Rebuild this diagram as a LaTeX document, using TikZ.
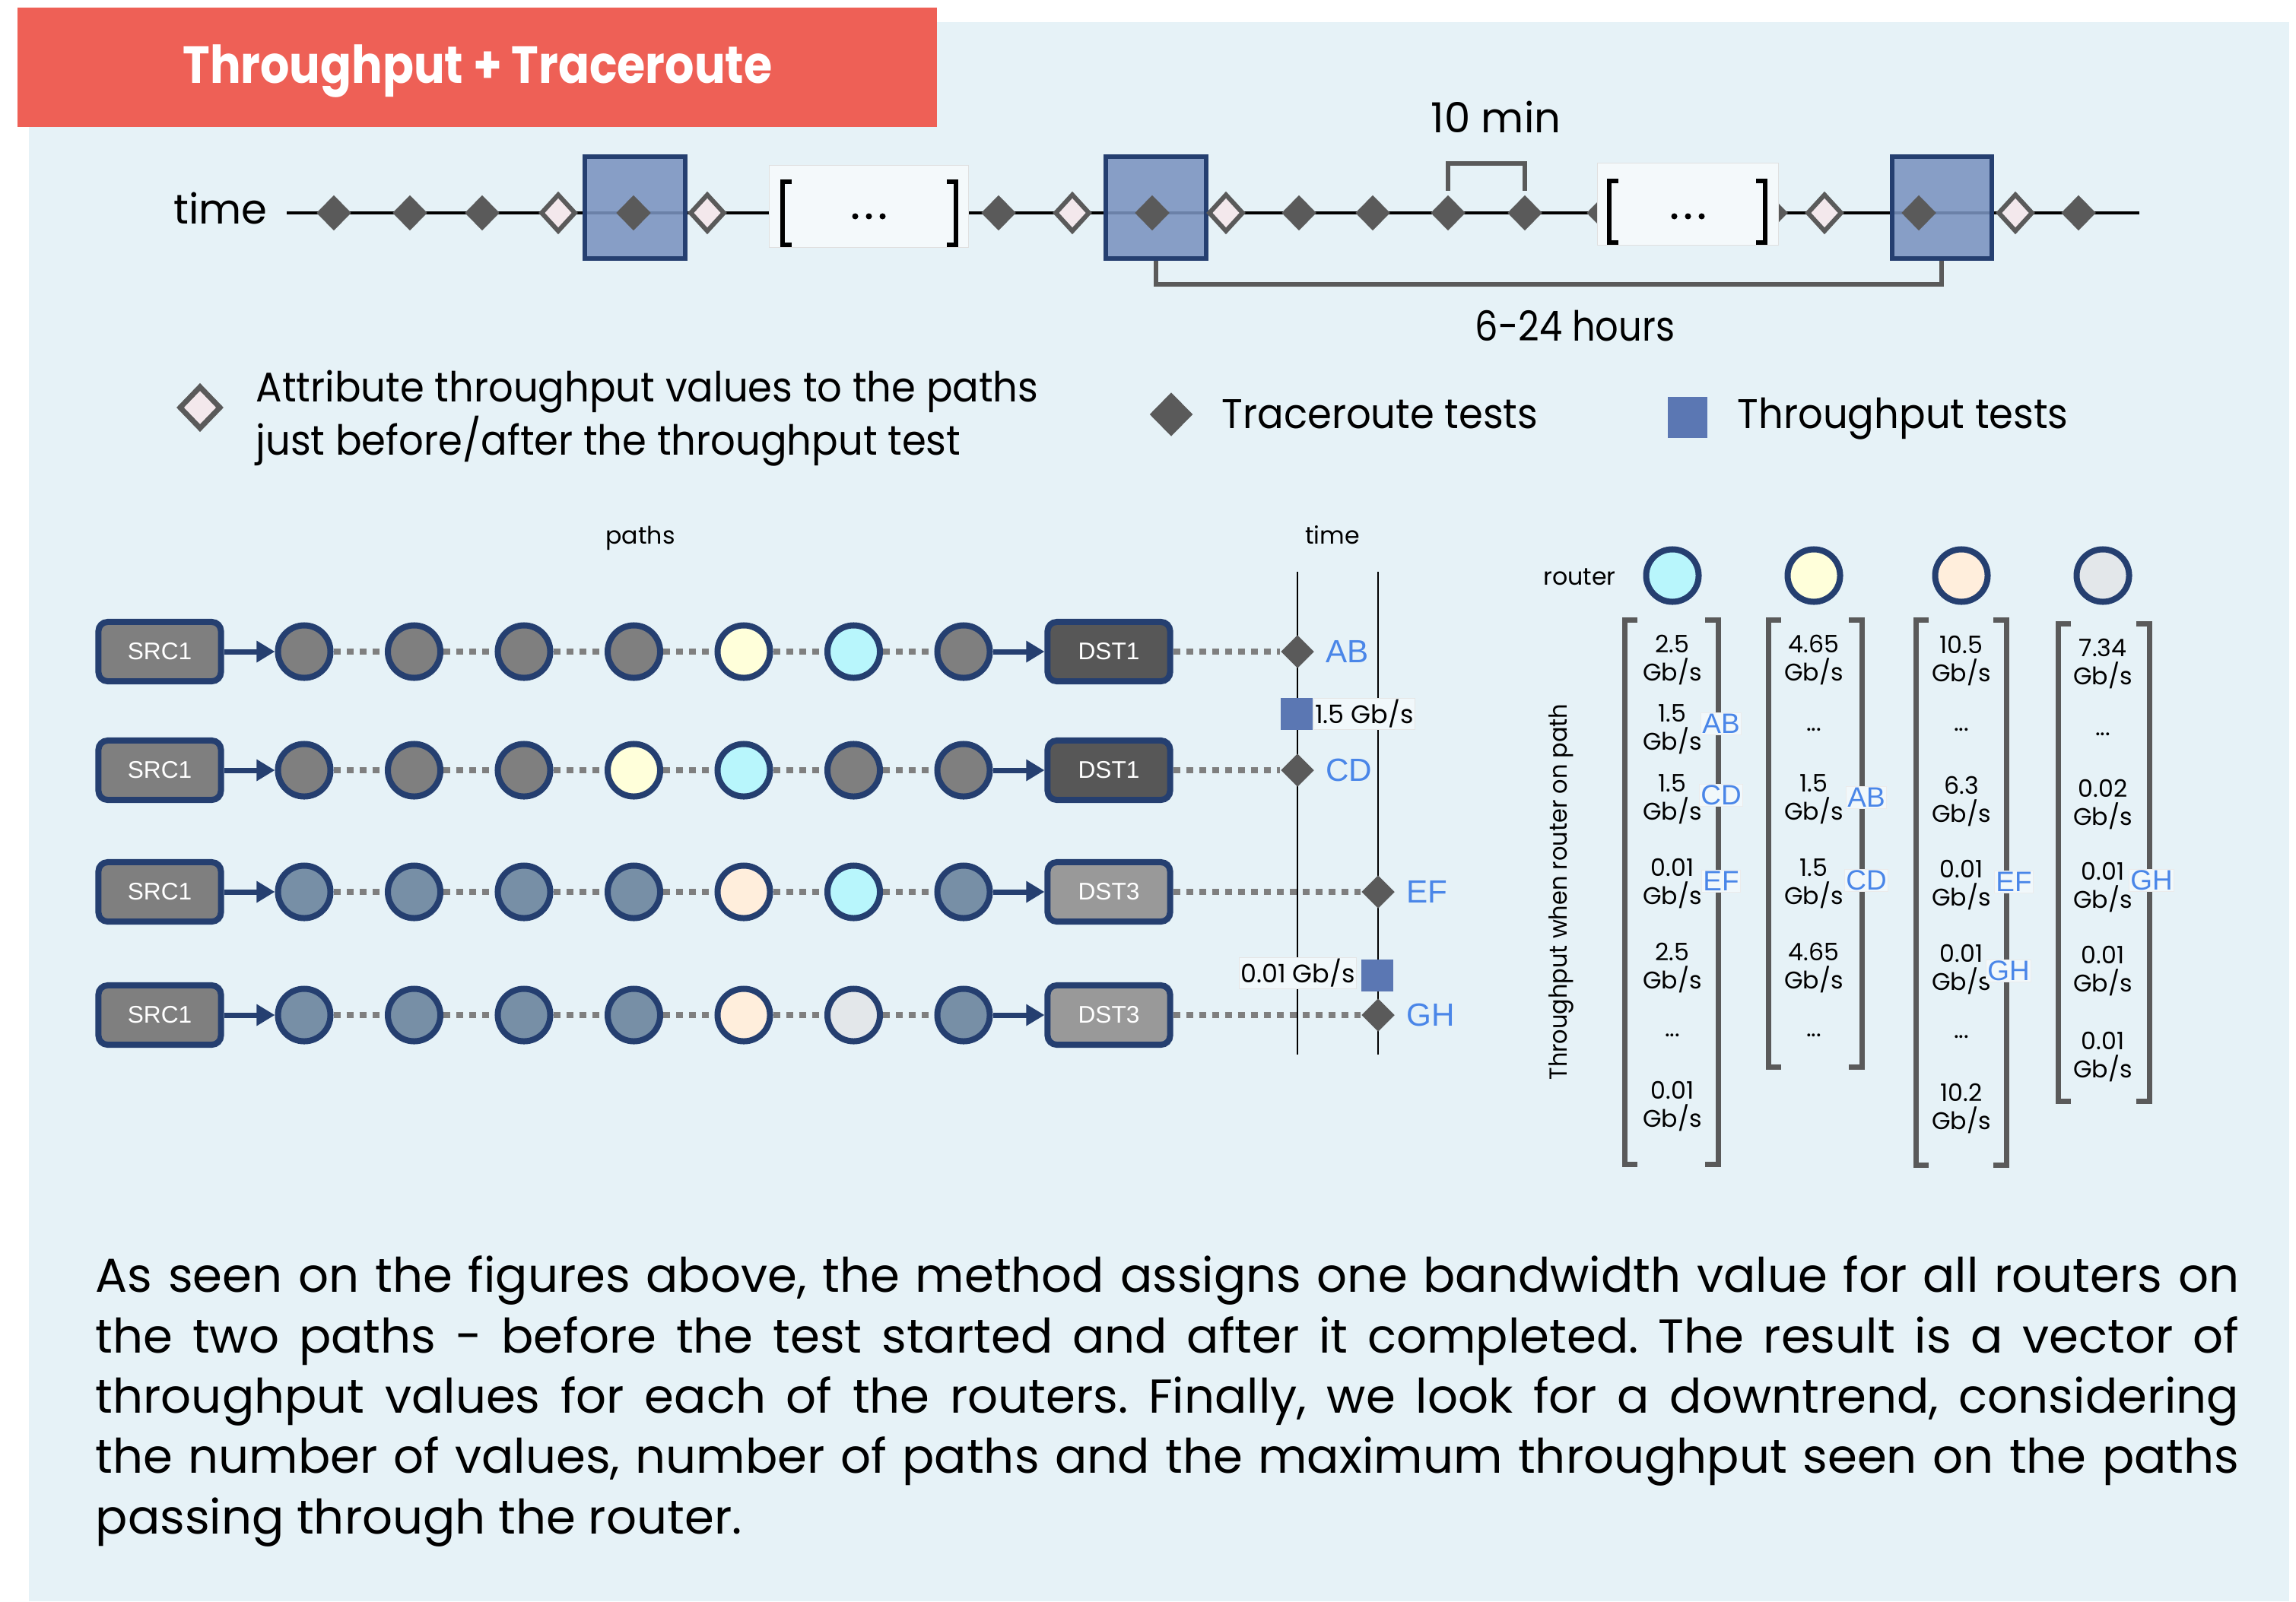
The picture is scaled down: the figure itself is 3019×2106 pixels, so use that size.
\documentclass[tikz,border=0pt]{standalone}
\usepackage{fontspec}
\setmainfont{Poppins}
\newfontfamily\legendfont{Poppins}[FakeStretch=0.94]
\newfontfamily\tightfont{Poppins}[FakeStretch=0.88]
\newfontfamily\labelfont{Liberation Sans}
\usepackage{xcolor}
\usetikzlibrary{calc,arrows.meta,shapes.geometric,positioning}

\definecolor{panel}{HTML}{E6F2F7}
\definecolor{banner}{HTML}{EE6056}
\definecolor{navy}{HTML}{253F70}
\definecolor{tpfill}{HTML}{7A93C0}
\definecolor{tpsquare}{HTML}{5B77B3}
\definecolor{trgray}{HTML}{5A5A5A}
\definecolor{attrfill}{HTML}{F3E8EC}
\definecolor{hopgray}{HTML}{7F7F7F}
\definecolor{hopslate}{HTML}{778FA6}
\definecolor{rcyan}{HTML}{B8F6FC}
\definecolor{ryellow}{HTML}{FFFFDA}
\definecolor{rpeach}{HTML}{FFEEDC}
\definecolor{rlight}{HTML}{E3E7EA}
\definecolor{dstdark}{HTML}{575757}
\definecolor{dstlight}{HTML}{999999}
\definecolor{tagblue}{HTML}{4A86E8}

\tikzset{
  bigtext/.style={font=\fontsize{15.5}{18.5}\selectfont,inner sep=0},
  legtext/.style={font=\legendfont\fontsize{15.5}{17.6}\selectfont,inner sep=0},
  smalltext/.style={font=\fontsize{9}{10.5}\selectfont,inner sep=0},
  trace/.style={diamond,fill=trgray,inner sep=0,minimum width=0.46cm,minimum height=0.47cm},
  attr/.style={diamond,draw=trgray,fill=attrfill,line width=0.06cm,inner sep=0,
    minimum width=0.46cm,minimum height=0.5cm},
  tpbox/.style={draw=navy,fill=tpfill,fill opacity=0.88,line width=0.06cm,inner sep=0,
    minimum width=1.31cm,minimum height=1.33cm},
  gapbox/.style={draw=black!12,fill=white!55!panel,line width=0.3pt,inner sep=0,minimum height=1.07cm},
  gapbrk/.style={black,line width=0.055cm},
  span/.style={trgray,line width=0.06cm},
  hop/.style={circle,draw=navy,line width=0.08cm,minimum size=0.69cm,inner sep=0},
  endbox/.style={rectangle,rounded corners=0.12cm,draw=navy,line width=0.08cm,
    minimum width=1.61cm,minimum height=0.78cm,text=white,font=\labelfont\fontsize{9}{10}\selectfont},
  link/.style={hopgray,line width=0.08cm,dash pattern=on 0.09cm off 0.08cm},
  hand/.style={navy,line width=0.07cm,-{Triangle[length=0.24cm,width=0.27cm]}},
  probe/.style={diamond,fill=trgray,inner sep=0,minimum size=0.44cm},
  probetag/.style={text=tagblue,font=\labelfont\fontsize{12}{14}\selectfont,inner sep=0},
  tpsq/.style={fill=tpsquare,inner sep=0,minimum size=0.42cm},
  valbox/.style={draw=black!10,fill=white!45!panel,line width=0.3pt,inner sep=0.02cm,
    minimum height=0.37cm,font=\fontsize{9.5}{11}\selectfont},
  brk/.style={trgray,line width=0.07cm},
  val/.style={align=center,font=\fontsize{9}{10.5}\selectfont,inner sep=0},
  vtag/.style={draw=black!8,fill=white!45!panel,line width=0.3pt,inner sep=0.015cm,
    text=tagblue,font=\labelfont\fontsize{10.5}{12}\selectfont},
}

\begin{document}
\begin{tikzpicture}[x=0.01cm,y=-0.01cm]
\useasboundingbox (0,0) rectangle (3019,2106);
\fill[panel] (38,29) rectangle (3010,2106);
\fill[banner] (23,10) rectangle (1232,167);
\node[anchor=base,text=white,inner sep=0,font=\tightfont\bfseries\fontsize{19.5}{22}\selectfont] (title) at (628,110) {Throughput + Traceroute};

% ---- timeline of tests
\coordinate (tstart) at (377,280);
\coordinate (tend) at (2813,280);
\draw[line width=0.035cm] (tstart) -- (tend);
\node[bigtext,anchor=base] (timelbl) at (290,294) {time};

\foreach \n/\x in {1/835,2/1520,3/2553}
  \node[tpbox] (tp\n) at (\x,273) {};

% traceroutes hidden behind the gaps
\node[trace] (h1) at (2109,280) {};
\node[trace] (h2) at (2328,280) {};

\node[gapbox,minimum width=2.61cm] (g1) at (1142.5,271.5) {};
\node[gapbox,minimum width=2.37cm] (g2) at (2219.5,268.5) {};
\draw[gapbrk] (1041,239) -- (1029,239) -- (1029,322) -- (1041,322);
\draw[gapbrk] (1245,239) -- (1257,239) -- (1257,322) -- (1245,322);
\draw[gapbrk] (2128,238) -- (2116,238) -- (2116,319) -- (2128,319);
\draw[gapbrk] (2309,238) -- (2321,238) -- (2321,319) -- (2309,319);
\foreach \d in {-18,0,18} {
  \fill ($(g1.center)+(\d,13)$) circle (0.04cm);
  \fill ($(g2.center)+(\d,16)$) circle (0.04cm);
}

\foreach \n/\x in {1/439,2/539,3/634,4/833,5/1313,6/1515,7/1708,8/1805,9/1904,10/2005,11/2523,12/2733}
  \node[trace] (t\n) at (\x,280) {};
\foreach \n/\x in {1/734,2/930,3/1410,4/1612,5/2399,6/2650}
  \node[attr] (a\n) at (\x,280) {};

\draw[span] ([yshift=0.05cm]t9.north) -- ++(0,-36) -| ([yshift=0.05cm]t10.north);
\node[bigtext,anchor=base] (tenmin) at (1967,175) {10 min};
\draw[span] (tp2.south) -- ++(0,31) -| (tp3.south);
\node[bigtext,anchor=base,font=\tightfont\fontsize{15.5}{18.5}\selectfont] (hours) at (2071,448) {6-24 hours};

% ---- legend
\node[attr,minimum width=0.55cm,minimum height=0.57cm,line width=0.07cm] (leg1) at (263,536) {};
\node[legtext,anchor=west,align=left] (legtxt1) at (336,550)
  {Attribute throughput values to the paths\\just before/after the throughput test};
\node[trace,minimum width=0.57cm,minimum height=0.58cm] (leg2) at (1540,545) {};
\node[legtext,anchor=base west] (legtxt2) at (1606,563) {Traceroute tests};
\node[tpsq,minimum width=0.52cm,minimum height=0.54cm] (leg3) at (2219,549) {};
\node[legtext,anchor=base west] (legtxt3) at (2284,563) {Throughput tests};

% ---- paths and the two traceroute time lines
\node[smalltext] (pathslbl) at (842,708) {paths};
\node[smalltext] (ptimelbl) at (1752,704) {time};

\coordinate (tl1a) at (1706,752);
\coordinate (tl1b) at (1706,1387);
\coordinate (tl2a) at (1812,752);
\coordinate (tl2b) at (1812,1387);
\draw[line width=0.025cm] (tl1a) -- (tl1b);
\draw[line width=0.025cm] (tl2a) -- (tl2b);

\foreach \r/\y/\dst/\dfill/\hops/\px/\tag in {
    1/857/DST1/dstdark/{hopgray,hopgray,hopgray,hopgray,ryellow,rcyan,hopgray}/1706/AB,
    2/1013/DST1/dstdark/{hopgray,hopgray,hopgray,ryellow,rcyan,hopgray,hopgray}/1706/CD,
    3/1173/DST3/dstlight/{hopslate,hopslate,hopslate,hopslate,rpeach,rcyan,hopslate}/1812/EF,
    4/1335/DST3/dstlight/{hopslate,hopslate,hopslate,hopslate,rpeach,rlight,hopslate}/1812/GH} {
  \node[endbox,fill=hopgray] (src\r) at (210,\y) {SRC1};
  \foreach \c [count=\i] in \hops
    \node[hop,fill=\c] (h\r-\i) at ({400+144.5*(\i-1)},\y) {};
  \node[endbox,fill=\dfill] (dst\r) at (1458,\y) {\dst};
  \draw[hand] (src\r) -- (h\r-1);
  \foreach \i [evaluate=\i as \j using int(\i+1)] in {1,...,6}
    \draw[link] (h\r-\i) -- (h\r-\j);
  \draw[hand] (h\r-7) -- (dst\r);
  \node[probe] (p\r) at (\px,\y) {};
  \draw[link] (dst\r) -- (p\r);
  \node[probetag,right=0.14cm of p\r] (pt\r) {\tag};
}

\node[tpsq] (q1) at (1705,939) {};
\node[valbox,right=0pt of q1] (q1v) {1.5 Gb/s};
\node[tpsq] (q2) at (1811,1283) {};
\node[valbox,left=0.05cm of q2,yshift=0.03cm] (q2v) {0.01 Gb/s};

% ---- throughput vectors per router
\node[smalltext] (routerlbl) at (2077,759) {router};
\foreach \n/\x/\c in {1/2199/rcyan,2/2385/ryellow,3/2579/rpeach,4/2765/rlight}
  \node[hop,fill=\c] (r\n) at (\x,757) {};

\foreach \l/\rr/\t/\b in {2136/2259/815/1531,2325/2448/815/1403,2519/2638/815/1532,2706/2826/820/1448} {
  \draw[brk] (\l+17,\t) -- (\l,\t) -- (\l,\b) -- (\l+17,\b);
  \draw[brk] (\rr-17,\t) -- (\rr,\t) -- (\rr,\b) -- (\rr-17,\b);
}

\node[rotate=90,font=\legendfont\fontsize{9.2}{11}\selectfont,inner sep=0] (ylbl) at (2053,1173) {Throughput when router on path};

% column 1
\node[val] (v1a) at (2199,868) {2.5\\Gb/s};
\node[val] (v1b) at (2199,959) {1.5\\Gb/s};
\node[val] (v1c) at (2199,1051) {1.5\\Gb/s};
\node[val] (v1d) at (2199,1162) {0.01\\Gb/s};
\node[val] (v1e) at (2199,1273) {2.5\\Gb/s};
\node[val] (v1f) at (2199,1362) {...};
\node[val] (v1g) at (2199,1455) {0.01\\Gb/s};
% column 2
\node[val] (v2a) at (2385,868) {4.65\\Gb/s};
\node[val] (v2b) at (2385,960) {...};
\node[val] (v2c) at (2385,1051) {1.5\\Gb/s};
\node[val] (v2d) at (2385,1162) {1.5\\Gb/s};
\node[val] (v2e) at (2385,1273) {4.65\\Gb/s};
\node[val] (v2f) at (2385,1362) {...};
% column 3
\node[val] (v3a) at (2579,869) {10.5\\Gb/s};
\node[val] (v3b) at (2579,960) {...};
\node[val] (v3c) at (2579,1054) {6.3\\Gb/s};
\node[val] (v3d) at (2579,1164) {0.01\\Gb/s};
\node[val] (v3e) at (2579,1275) {0.01\\Gb/s};
\node[val] (v3f) at (2579,1364) {...};
\node[val] (v3g) at (2579,1458) {10.2\\Gb/s};
% column 4
\node[val] (v4a) at (2765,873) {7.34\\Gb/s};
\node[val] (v4b) at (2765,966) {...};
\node[val] (v4c) at (2765,1058) {0.02\\Gb/s};
\node[val] (v4d) at (2765,1167) {0.01\\Gb/s};
\node[val] (v4e) at (2765,1277) {0.01\\Gb/s};
\node[val] (v4f) at (2765,1390) {0.01\\Gb/s};

\node[vtag] (k1) at (2263,952) {AB};
\node[vtag] (k2) at (2263,1046) {CD};
\node[vtag] (k3) at (2263,1159) {EF};
\node[vtag] (k4) at (2454,1049) {AB};
\node[vtag] (k5) at (2454,1158) {CD};
\node[vtag] (k6) at (2648,1160) {EF};
\node[vtag] (k7) at (2641,1277) {GH};
\node[vtag] (k8) at (2829,1158) {GH};

% ---- explanation
\node[anchor=north west,inner sep=0,text width=28.17cm,align=justify,
  font=\frenchspacing\fontsize{17.8}{22.6}\selectfont] (note) at (125,1651)
  {As seen on the figures above, the method assigns one bandwidth value for all routers on\linebreak
   the two paths - before the test started and after it completed. The result is a vector of\linebreak
   throughput values for each of the routers. Finally, we look for a downtrend, considering\linebreak
   the number of values, number of paths and the maximum throughput seen on the paths\linebreak
   passing through the router.};
\end{tikzpicture}
\end{document}
